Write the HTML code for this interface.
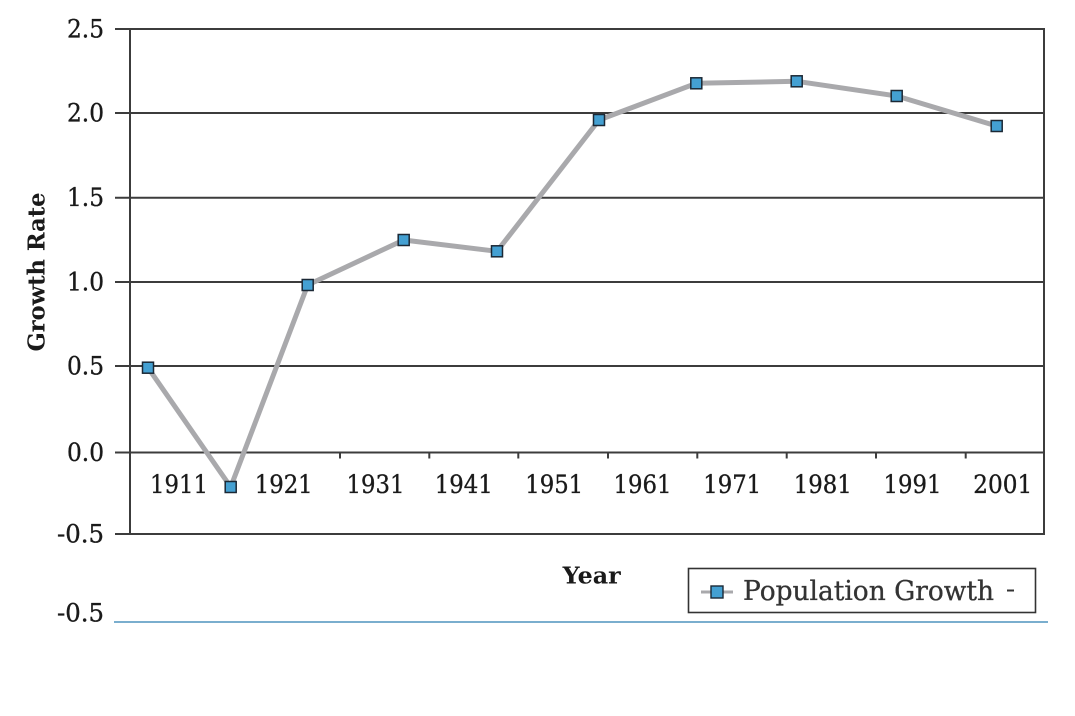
<!DOCTYPE html>
<html>
<head>
<meta charset="utf-8">
<style>
  html, body { margin:0; padding:0; background:#ffffff; }
  svg { display:block; }
  text { font-family: "DejaVu Serif", "Liberation Serif", serif; fill:#1a1a1a; }
</style>
</head>
<body>
<svg width="1075" height="716" viewBox="0 0 1075 716" xmlns="http://www.w3.org/2000/svg">
  <rect x="0" y="0" width="1075" height="716" fill="#ffffff"/>

  <!-- gridlines incl. tick stubs -->
  <g stroke="#3c3c3c" stroke-width="2" fill="none">
    <line x1="115" y1="29" x2="1044" y2="29"/>
    <line x1="115" y1="113" x2="1044" y2="113"/>
    <line x1="115" y1="197.7" x2="1044" y2="197.7"/>
    <line x1="115" y1="282" x2="1044" y2="282"/>
    <line x1="115" y1="366" x2="1044" y2="366"/>
    <line x1="115" y1="452.5" x2="1044" y2="452.5"/>
    <line x1="115" y1="534" x2="1044" y2="534"/>
    <line x1="130" y1="28" x2="130" y2="535"/>
    <line x1="1044" y1="28" x2="1044" y2="535"/>
    <line x1="340" y1="452.5" x2="340" y2="458.5"/>
    <line x1="429.3" y1="452.5" x2="429.3" y2="458.5"/>
    <line x1="518.3" y1="452.5" x2="518.3" y2="458.5"/>
    <line x1="608" y1="452.5" x2="608" y2="458.5"/>
    <line x1="697.3" y1="452.5" x2="697.3" y2="458.5"/>
    <line x1="786.7" y1="452.5" x2="786.7" y2="458.5"/>
    <line x1="876" y1="452.5" x2="876" y2="458.5"/>
    <line x1="965.7" y1="452.5" x2="965.7" y2="458.5"/>
  </g>

  <!-- y tick labels -->
  <g font-size="25" text-anchor="end" stroke="#1a1a1a" stroke-width="0.35">
    <text x="104" y="37.5" textLength="37" lengthAdjust="spacingAndGlyphs">2.5</text>
    <text x="104" y="121.5" textLength="37" lengthAdjust="spacingAndGlyphs">2.0</text>
    <text x="104" y="206" textLength="37" lengthAdjust="spacingAndGlyphs">1.5</text>
    <text x="104" y="290.5" textLength="37" lengthAdjust="spacingAndGlyphs">1.0</text>
    <text x="104" y="374.5" textLength="37" lengthAdjust="spacingAndGlyphs">0.5</text>
    <text x="104" y="461" textLength="37" lengthAdjust="spacingAndGlyphs">0.0</text>
    <text x="104" y="542.5" textLength="47" lengthAdjust="spacingAndGlyphs">-0.5</text>
    <text x="104" y="621.5" textLength="47" lengthAdjust="spacingAndGlyphs">-0.5</text>
  </g>

  <!-- x tick labels -->
  <g font-size="25" text-anchor="middle" stroke="#1a1a1a" stroke-width="0.35">
    <text x="179" y="493" textLength="58" lengthAdjust="spacingAndGlyphs">1911</text>
    <text x="283.7" y="493" textLength="58" lengthAdjust="spacingAndGlyphs">1921</text>
    <text x="375.5" y="493" textLength="58" lengthAdjust="spacingAndGlyphs">1931</text>
    <text x="463.8" y="493" textLength="58" lengthAdjust="spacingAndGlyphs">1941</text>
    <text x="554.2" y="493" textLength="58" lengthAdjust="spacingAndGlyphs">1951</text>
    <text x="642.5" y="493" textLength="58" lengthAdjust="spacingAndGlyphs">1961</text>
    <text x="732.2" y="493" textLength="58" lengthAdjust="spacingAndGlyphs">1971</text>
    <text x="822.8" y="493" textLength="58" lengthAdjust="spacingAndGlyphs">1981</text>
    <text x="912.5" y="493" textLength="58" lengthAdjust="spacingAndGlyphs">1991</text>
    <text x="1002.8" y="493" textLength="59" lengthAdjust="spacingAndGlyphs">2001</text>
  </g>

  <!-- axis titles -->
  <text x="591.7" y="583.3" font-size="23" font-weight="bold" text-anchor="middle" textLength="58" lengthAdjust="spacingAndGlyphs">Year</text>
  <text transform="translate(44.5,272) rotate(-90)" x="0" y="0" font-size="23" font-weight="bold" text-anchor="middle" textLength="159" lengthAdjust="spacingAndGlyphs">Growth Rate</text>

  <!-- series line -->
  <polyline fill="none" stroke="#a9a9ac" stroke-width="5" stroke-linejoin="round"
    points="148,367.7 230.7,487 307.7,285 403.7,240 497,251.3 599,120 696.3,83.3 796.7,81.3 896.7,96 996.7,126"/>

  <!-- markers -->
  <g fill="#44a0d2" stroke="#1b2835" stroke-width="1.5">
    <rect x="142.5" y="362.2" width="11" height="11"/>
    <rect x="225.2" y="481.5" width="11" height="11"/>
    <rect x="302.2" y="279.5" width="11" height="11"/>
    <rect x="398.2" y="234.5" width="11" height="11"/>
    <rect x="491.5" y="245.8" width="11" height="11"/>
    <rect x="593.5" y="114.5" width="11" height="11"/>
    <rect x="690.8" y="77.8" width="11" height="11"/>
    <rect x="791.2" y="75.8" width="11" height="11"/>
    <rect x="891.2" y="90.5" width="11" height="11"/>
    <rect x="991.2" y="120.5" width="11" height="11"/>
  </g>

  <!-- legend -->
  <rect x="688.5" y="568.5" width="347" height="44" fill="#ffffff" stroke="#333333" stroke-width="1.6"/>
  <line x1="701" y1="592" x2="733" y2="592" stroke="#a9a9ac" stroke-width="3"/>
  <rect x="711" y="586" width="12" height="12" fill="#44a0d2" stroke="#1b2835" stroke-width="1.4"/>
  <text x="743" y="600" font-size="27" textLength="251" lengthAdjust="spacingAndGlyphs" style="fill:#333333" stroke="#333333" stroke-width="0.3">Population Growth</text>
  <line x1="1007" y1="590.5" x2="1014" y2="590.5" stroke="#333333" stroke-width="2"/>

  <!-- blue rule -->
  <line x1="114" y1="622" x2="1048" y2="622" stroke="#4f93bd" stroke-width="1.6"/>
</svg>
</body>
</html>
